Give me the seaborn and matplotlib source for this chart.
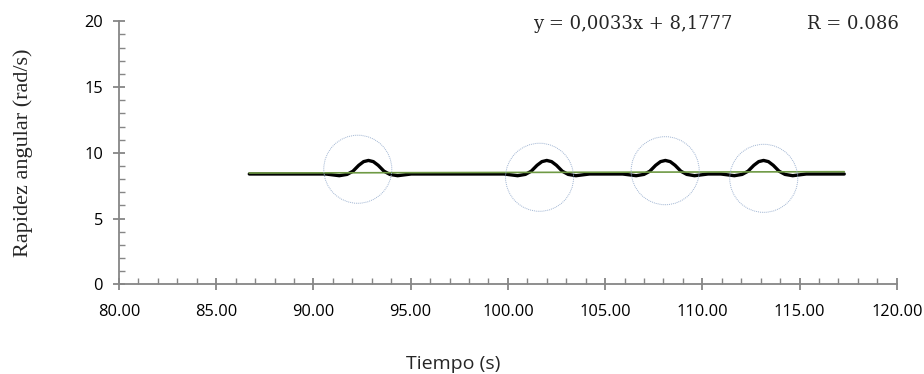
import numpy as np
import pandas as pd
import matplotlib
matplotlib.use("Agg")
import matplotlib.pyplot as plt
import seaborn as sns
from matplotlib.ticker import MultipleLocator, FormatStrFormatter

# Angular speed readings
tiempo = [86.70, 88.50, 90.63, 91.33, 91.73, 92.03, 92.33, 92.58, 92.83, 93.08, 93.33,
          93.63, 93.93, 94.33, 95.03, 97.50, 99.80, 100.50, 100.90, 101.20, 101.50,
          101.75, 102.00, 102.25, 102.50, 102.80, 103.10, 103.50, 104.20, 105.90,
          106.60, 107.00, 107.30, 107.60, 107.85, 108.10, 108.35, 108.60, 108.90,
          109.20, 109.60, 110.30, 110.95, 111.65, 112.05, 112.35, 112.65, 112.90,
          113.15, 113.40, 113.65, 113.95, 114.25, 114.65, 115.35, 117.30]
rapidez = [8.39, 8.39, 8.39, 8.26, 8.36, 8.60, 9.05, 9.33, 9.42, 9.33, 9.05,
           8.60, 8.36, 8.26, 8.39, 8.39, 8.39, 8.26, 8.36, 8.60, 9.05,
           9.33, 9.42, 9.33, 9.05, 8.60, 8.36, 8.26, 8.39, 8.39,
           8.26, 8.36, 8.60, 9.05, 9.33, 9.42, 9.33, 9.05, 8.60,
           8.36, 8.26, 8.39, 8.39, 8.26, 8.36, 8.60, 9.05, 9.33,
           9.42, 9.33, 9.05, 8.60, 8.36, 8.26, 8.39, 8.39]

# Linear trendline end points
tendencia_x = [86.70, 117.30]
tendencia_y = [8.464, 8.565]

# Highlight circles around each peak
circulo_x = [92.28, 101.63, 108.09, 113.16]
circulo_y = [8.75, 8.14, 8.64, 8.06]

ecuacion = "y = 0,0033x + 8,1777"
r_texto = "R = 0.086"

df = pd.DataFrame({"Tiempo": tiempo, "Rapidez": rapidez})
df_trend = pd.DataFrame({"x": tendencia_x, "y": tendencia_y})
df_circ = pd.DataFrame({"x": circulo_x, "y": circulo_y})

sns.set_style("white")
plt.rcParams["font.family"] = ["Open Sans", "DejaVu Sans"]

fig, ax = plt.subplots(figsize=(9.24, 3.74), dpi=100)
fig.subplots_adjust(left=0.1288, right=0.9705, bottom=0.2398, top=0.943)

sns.lineplot(data=df, x="Tiempo", y="Rapidez", ax=ax, color="black",
             linewidth=2.4, zorder=2)
sns.lineplot(data=df_trend, x="x", y="y", ax=ax, color="#6f9a45",
             linewidth=1.2, zorder=3)
sns.scatterplot(data=df_circ, x="x", y="y", ax=ax, s=2400, marker="o",
                facecolor="none", edgecolor="#9fb4d2", linewidth=0.7,
                linestyle=(0, (1, 1)), zorder=4)

ax.set_xlim(80, 120)
ax.set_ylim(0, 20)
ax.xaxis.set_major_locator(MultipleLocator(5))
ax.xaxis.set_minor_locator(MultipleLocator(1))
ax.yaxis.set_major_locator(MultipleLocator(5))
ax.yaxis.set_minor_locator(MultipleLocator(1))
ax.xaxis.set_major_formatter(FormatStrFormatter("%.2f"))

for side in ["top", "right"]:
    ax.spines[side].set_visible(False)
for side in ["left", "bottom"]:
    ax.spines[side].set_color("#868686")
    ax.spines[side].set_linewidth(1.3)

ax.tick_params(which="both", bottom=True, left=True)
ax.tick_params(which="major", direction="inout", length=9, width=1.3,
               color="#868686", labelsize=11.8, labelcolor="black")
ax.tick_params(axis="x", which="major", pad=9.5)
ax.tick_params(axis="y", which="major", pad=7)
ax.tick_params(which="minor", direction="in", length=4, width=1.0,
               color="#868686")

ax.set_xlabel("Tiempo (s)", fontsize=14)
ax.xaxis.set_label_coords(0.43, -0.27)
ax.set_ylabel("Rapidez angular (rad/s)", fontsize=16,
              family=["Liberation Serif"])
ax.yaxis.set_label_coords(-0.111, 0.5)

ax.text(0.532, 0.99, ecuacion, transform=ax.transAxes, fontsize=13,
        family=["DejaVu Serif"], va="center", ha="left")
ax.text(0.885, 0.99, r_texto, transform=ax.transAxes, fontsize=13,
        family=["DejaVu Serif"], va="center", ha="left")

fig.savefig("out.png", dpi=100)
